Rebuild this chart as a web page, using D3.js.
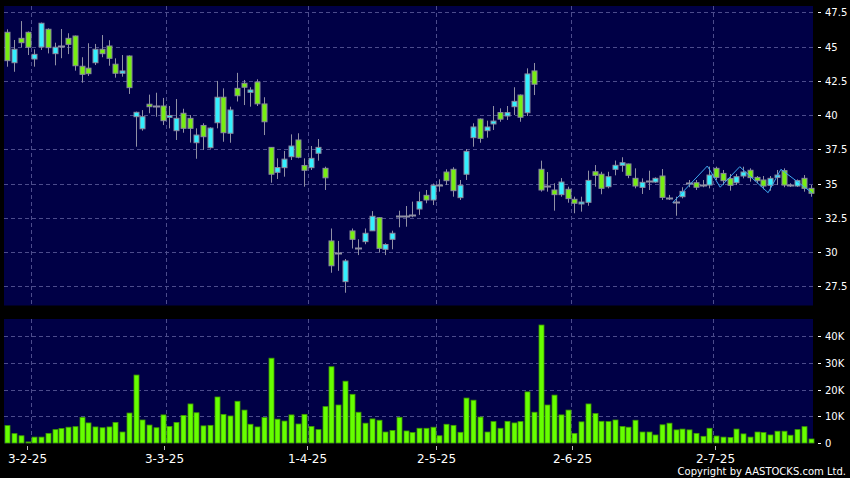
<!DOCTYPE html>
<html>
<head>
<meta charset="utf-8">
<script src="https://cdn.jsdelivr.net/npm/d3@7"></script>
<style>
  html, body { margin: 0; padding: 0; background: #000; }
  svg { display: block; }
</style>
</head>
<body>
<svg id="chart" width="850" height="478"></svg>
<script>
// ---------------- DATA ----------------
const openP = [46.04,43.82,45.60,46.04,44.09,44.97,46.26,44.48,45.04,45.60,
  45.77,43.56,43.42,43.82,44.80,45.04,43.71,43.05,44.31,39.88,
  39.00,40.79,40.64,40.66,39.83,38.86,40.13,39.76,37.98,39.24,
  37.62,39.44,41.30,38.67,41.95,42.32,41.66,42.41,40.81,37.64,
  35.82,36.16,36.96,38.18,36.32,36.16,37.21,36.11,30.81,29.96,
  27.84,31.54,30.32,30.76,31.55,32.51,30.20,30.93,32.63,32.63,
  32.68,33.14,34.14,33.80,34.89,35.84,36.04,33.97,35.68,38.35,
  39.71,38.86,39.35,40.18,39.93,40.61,41.46,40.17,43.22,36.04,
  34.79,34.53,34.19,34.58,33.85,33.51,33.63,35.86,35.68,34.77,
  36.04,36.33,36.43,35.38,34.72,35.18,35.11,35.55,33.97,33.63,
  34.04,35.02,35.06,34.89,34.89,36.11,35.74,35.36,35.06,35.55,
  35.97,35.45,35.26,34.87,35.45,35.94,34.89,34.82,35.38,34.65];
const closeP = [43.97,44.80,45.28,44.95,44.43,46.70,44.92,44.95,45.04,45.16,
  43.60,42.97,43.02,44.80,44.48,44.14,43.05,43.22,42.00,40.20,
  39.88,40.61,40.64,39.59,39.97,39.76,39.03,39.03,38.54,38.42,
  39.05,41.30,38.71,40.37,41.41,42.03,41.83,40.82,39.51,35.68,
  36.17,36.78,37.74,36.92,35.97,36.84,37.64,35.42,29.00,29.96,
  29.35,30.93,30.32,31.37,32.61,30.27,30.55,31.37,32.63,32.63,
  32.68,33.68,33.80,34.87,34.89,35.21,34.48,34.87,37.35,39.13,
  38.30,39.13,39.56,39.70,40.18,41.00,39.84,43.00,42.25,34.53,
  34.79,34.19,35.11,33.90,33.56,33.65,35.23,35.60,34.65,35.50,
  36.33,36.52,35.60,34.82,35.09,35.18,35.38,33.99,33.97,33.63,
  34.43,35.02,34.73,34.89,35.62,35.45,35.21,34.87,35.50,35.84,
  35.43,35.21,34.82,35.38,35.62,34.89,34.89,35.21,34.65,34.29];
const highP = [46.26,45.48,46.86,46.10,44.80,46.75,46.33,45.28,46.28,45.97,
  45.80,44.22,45.24,45.19,45.84,45.46,44.14,44.38,44.35,40.25,
  40.36,41.49,41.63,41.25,40.66,41.17,40.46,40.00,39.03,39.40,
  39.10,42.49,41.95,40.61,43.08,42.56,42.03,42.61,41.30,37.66,
  36.84,37.38,38.59,38.67,36.84,37.74,38.25,36.23,31.72,30.81,
  29.49,31.72,30.93,31.72,32.99,32.55,30.64,31.56,33.02,33.36,
  33.68,34.41,34.53,35.00,35.31,36.04,36.19,35.26,37.52,39.40,
  39.75,39.59,40.66,40.49,40.66,42.03,41.50,43.41,43.80,36.67,
  35.84,35.02,35.40,34.77,34.04,34.04,35.94,36.35,35.86,35.86,
  36.68,36.92,36.45,36.11,35.38,35.94,35.45,36.06,34.17,34.04,
  34.73,35.26,35.26,35.26,36.23,36.23,35.99,35.70,35.70,36.23,
  36.11,35.55,35.55,35.55,35.99,36.11,35.02,35.30,35.62,34.89];
const lowP = [43.53,43.16,44.95,44.38,43.53,44.75,44.50,43.63,44.15,44.45,
  43.24,42.36,42.85,43.65,44.22,43.60,42.73,42.80,41.54,37.69,
  38.86,40.13,39.88,39.27,39.03,38.18,38.71,37.99,36.81,37.45,
  37.55,39.03,38.05,37.98,40.99,40.73,40.61,40.66,38.54,35.06,
  35.33,35.50,36.72,36.84,34.77,35.99,36.67,34.53,28.49,28.63,
  27.03,30.26,29.78,30.57,31.55,29.96,29.78,30.20,31.81,31.85,
  32.54,32.71,33.56,33.43,34.41,34.89,34.04,33.80,35.26,37.69,
  37.98,38.35,38.91,39.51,39.64,40.00,39.51,39.93,41.46,34.41,
  34.41,33.02,34.04,33.60,32.83,32.95,33.38,34.77,34.22,34.65,
  35.60,35.86,35.39,34.65,34.24,34.53,35.05,33.80,33.80,32.65,
  33.92,34.73,34.53,34.73,34.65,35.26,34.89,34.48,34.89,35.38,
  35.14,35.02,34.58,34.48,34.89,34.73,34.75,34.75,34.41,34.04];
// volume in thousands of shares
const volumeK = [6.5,3.5,2.7,0.4,2.2,2.2,3.6,5.0,5.4,5.9,
  6.1,9.6,7.5,6.0,5.7,6.0,7.7,4.1,11.2,25.4,
  8.6,6.7,5.7,10.5,6.2,7.7,10.3,14.6,11.3,6.4,
  6.6,17.2,10.7,10.1,15.6,12.3,7.0,6.0,9.5,31.7,
  8.9,8.2,10.5,7.1,10.7,6.2,5.0,13.6,28.5,14.2,
  23.1,18.2,11.5,7.4,9.0,8.5,4.1,4.7,9.6,4.5,
  3.9,5.5,5.5,5.9,2.7,7.0,6.6,4.0,16.8,16.0,
  9.7,4.1,8.0,5.5,8.1,7.5,8.0,19.1,11.5,44.1,
  14.2,17.9,10.5,12.3,3.6,7.9,14.6,11.0,8.1,8.0,
  8.6,6.2,5.9,8.5,4.1,4.1,3.0,6.8,7.4,4.9,
  5.2,4.9,3.6,2.5,5.5,2.6,2.2,2.1,5.2,3.4,
  2.2,4.1,3.9,3.0,4.4,4.4,2.9,5.0,6.1,1.5];
// thin blue overlay line: [bar position, price]
const overlayPos = [98.56,103.7,105.6,108.5,112.7,114.6,119.2];
const overlayPrice = [33.6,36.28,34.73,36.23,34.33,36.04,34.33];

const dateLabels = ["3-2-25","3-3-25","1-4-25","2-5-25","2-6-25","2-7-25"];
const dateIndex = [3,23,44,63,83,104];
const priceTicks = [27.5,30,32.5,35,37.5,40,42.5,45,47.5];
const volTicks = [0,10000,20000,30000,40000];
const volTickLabels = ["0","10K","20K","30K","40K"];

// ---------------- LAYOUT ----------------
const W = 850, H = 478;
const left = 4, right = 813;
const pTop = 6, pBot = 305.5;
const vTop = 319, vBot = 443.5;
const N = openP.length;
const idx = d3.range(N);

const COL_BG = "#000000";
const COL_PANEL = "#000046";
const COL_GRID = "#4c4c8c";
const COL_UP = "#33f0ff";
const COL_DOWN = "#77ee11";
const COL_EDGE = "#8a8a9e";
const COL_WICK = "#9090a4";
const COL_VOL = "#66ff00";
const COL_VOL_EDGE = "#3f9a00";
const COL_TEXT = "#ffffff";
const FONT = "'DejaVu Sans', Verdana, sans-serif";

const x = d3.scaleBand().domain(idx).range([left, 814]).padding(0);
const cx = i => x(i) + x.bandwidth() / 2;
const xPos = d3.scaleLinear().domain([0, N - 1]).range([cx(0), cx(N - 1)]);
const xLabel = d3.scaleLinear().domain([3, 104]).range([27.3, 715.3]);

const y = d3.scaleLinear().domain([27.5, 47.5]).range([286.3, 12.3]);
const yv = d3.scaleLinear().domain([0, 40000]).range([443, 336]);

const svg = d3.select("#chart");
svg.append("rect").attr("width", W).attr("height", H).attr("fill", COL_BG);

// panels
svg.append("rect").attr("x", left).attr("y", pTop).attr("width", right - left).attr("height", pBot - pTop).attr("fill", COL_PANEL);
svg.append("rect").attr("x", left).attr("y", vTop).attr("width", right - left).attr("height", vBot - vTop).attr("fill", COL_PANEL);

// grids
const grid = svg.append("g").attr("stroke", COL_GRID).attr("stroke-width", 1).attr("stroke-dasharray", "4,3").attr("fill", "none");
priceTicks.forEach(p => {
  const yy = Math.round(y(p)) + 0.5;
  grid.append("line").attr("x1", left).attr("x2", right).attr("y1", yy).attr("y2", yy);
});
volTicks.filter(v => v > 0).forEach(v => {
  const yy = Math.round(yv(v)) + 0.5;
  grid.append("line").attr("x1", left).attr("x2", right).attr("y1", yy).attr("y2", yy);
});
dateIndex.forEach(i => {
  const xx = Math.round(x(i) + x.bandwidth()) + 0.5;
  grid.append("line").attr("x1", xx).attr("x2", xx).attr("y1", pTop).attr("y2", pBot);
  grid.append("line").attr("x1", xx).attr("x2", xx).attr("y1", vTop).attr("y2", vBot);
});

// candles
const cg = svg.append("g");
idx.forEach(i => {
  const c = Math.round(cx(i)) + 0.5;
  cg.append("line").attr("x1", c).attr("x2", c)
    .attr("y1", y(highP[i])).attr("y2", y(lowP[i]))
    .attr("stroke", COL_WICK).attr("stroke-width", 1);
  const o = openP[i], cl = closeP[i];
  if (o === cl) {
    const yy = Math.round(y(o)) + 0.5;
    cg.append("line").attr("x1", c - 3.5).attr("x2", c + 3.5).attr("y1", yy).attr("y2", yy)
      .attr("stroke", COL_WICK).attr("stroke-width", 2);
  } else {
    const top = y(Math.max(o, cl)), bot = y(Math.min(o, cl));
    cg.append("rect")
      .attr("x", c - 2.5).attr("width", 5)
      .attr("y", top).attr("height", Math.max(1.5, bot - top))
      .attr("fill", cl > o ? COL_UP : COL_DOWN)
      .attr("stroke", COL_EDGE).attr("stroke-width", 1);
  }
});

// overlay line
svg.append("path")
  .datum(d3.range(overlayPos.length))
  .attr("fill", "none").attr("stroke", "#3ea8f0").attr("stroke-width", 1)
  .attr("d", d3.line().x(k => xPos(overlayPos[k])).y(k => y(overlayPrice[k])));

// volume bars
const vg = svg.append("g");
idx.forEach(i => {
  const c = Math.round(cx(i)) + 0.5;
  const top = yv(volumeK[i] * 1000);
  vg.append("rect")
    .attr("x", c - 2.5).attr("width", 5)
    .attr("y", top).attr("height", Math.max(0.5, 443 - top))
    .attr("fill", COL_VOL).attr("stroke", COL_VOL_EDGE).attr("stroke-width", 0.8);
});

// right axes
const ax = svg.append("g").attr("font-family", FONT).attr("font-size", 10).attr("fill", COL_TEXT);
priceTicks.forEach(p => {
  const yy = Math.round(y(p)) + 0.5;
  ax.append("line").attr("x1", 818).attr("x2", 821).attr("y1", yy).attr("y2", yy).attr("stroke", COL_TEXT);
  ax.append("text").attr("x", 825).attr("y", yy + 3.7).text(p);
});
volTicks.forEach((v, k) => {
  const yy = Math.round(yv(v)) + 0.5;
  ax.append("line").attr("x1", 818).attr("x2", 821).attr("y1", yy).attr("y2", yy).attr("stroke", COL_TEXT);
  ax.append("text").attr("x", 825).attr("y", yy + 3.7).text(volTickLabels[k]);
});

// date axis
const dx = svg.append("g").attr("font-family", FONT).attr("font-size", 12).attr("fill", COL_TEXT);
dateIndex.forEach((i, k) => {
  const xx = Math.round(xLabel(i)) + 0.5;
  dx.append("line").attr("x1", xx).attr("x2", xx).attr("y1", 446).attr("y2", 450).attr("stroke", "#bbbbbb");
  dx.append("text").attr("x", xx).attr("y", 462.5).attr("text-anchor", "middle").text(dateLabels[k]);
});

svg.append("text").attr("x", 846).attr("y", 475).attr("text-anchor", "end")
  .attr("font-family", FONT).attr("font-size", 10).attr("fill", COL_TEXT)
  .text("Copyright by AASTOCKS.com Ltd.");
</script>
</body>
</html>
